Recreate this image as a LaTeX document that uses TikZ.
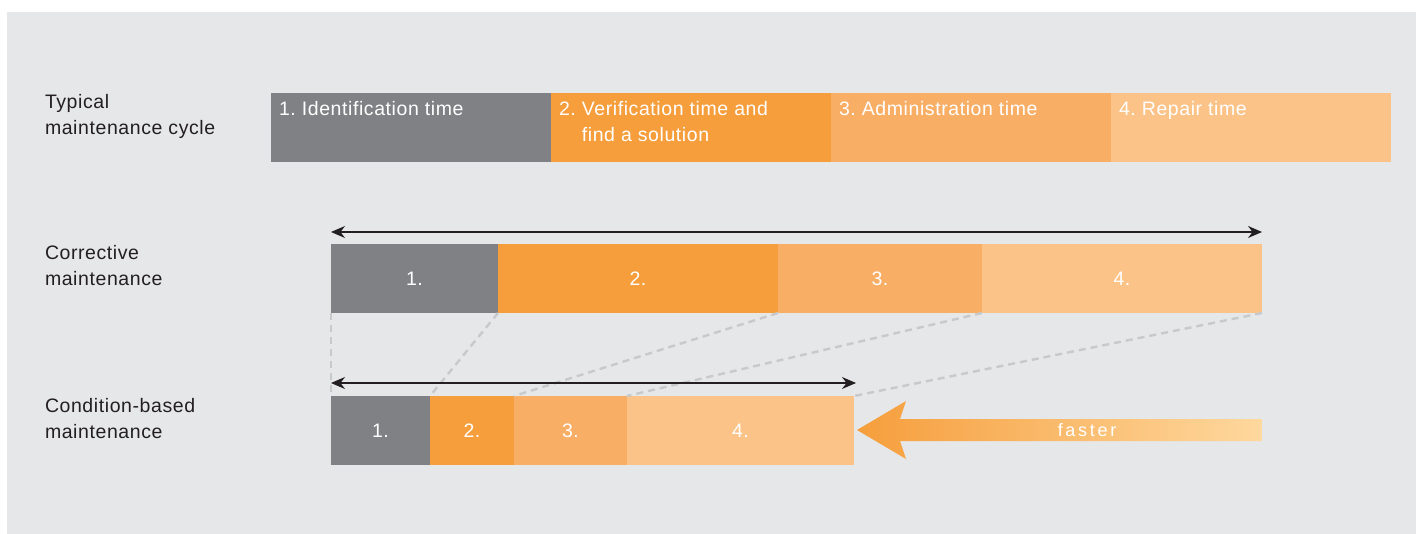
\documentclass[tikz,border=0pt]{standalone}
\usepackage{fontspec}
\setmainfont{Liberation Sans}[LetterSpace=3]
\usetikzlibrary{arrows.meta, positioning}
\frenchspacing

\definecolor{panel}{HTML}{E6E7E8}
\definecolor{ink}{HTML}{231F20}
\definecolor{phasegray}{HTML}{808184}
\definecolor{phasedark}{HTML}{F69E3C}
\definecolor{phasemid}{HTML}{F9AE66}
\definecolor{phaselight}{HTML}{FCC388}
\definecolor{fadeend}{HTML}{FED89E}
\definecolor{guide}{HTML}{C8C9CB}

\begin{document}
\begin{tikzpicture}[
        x = 1pt, y = -1pt, % one unit per pixel, y runs down
        > = {Stealth[length=14pt, width=12pt]}, % arrow head style
        node distance = 0pt, % segments sit edge to edge
        every node/.style = {
            inner sep = 0pt,
            outer sep = 0pt,
            font = \fontsize{19.5}{26}\selectfont
        },
        phase/.style = {
            rectangle,
            minimum height = 69pt,
            text = white
        },
        steptext/.style = {anchor = base west, align = left, xshift = 8pt, yshift = -23pt, text = white},
        rowname/.style = {anchor = base west, align = left, text = ink},
        span/.style = {<->, ink, line width = 1.4pt},
        link/.style = {guide, line width = 2.4pt, dash pattern = on 7pt off 5pt}
    ]

    % background panel
    \useasboundingbox (0,0) rectangle (1416,534);
    \fill[panel] (7,12) rectangle (1416,534);

    % row names (anchored on the last line)
    \node[rowname] (typ) at (45,135) {Typical\\maintenance cycle};
    \node[rowname] (cor) at (45,286) {Corrective\\maintenance};
    \node[rowname] (cbm) at (45,438) {Condition-based\\maintenance};

    % typical maintenance cycle
    \node[phase, fill=phasegray, minimum width=280pt, anchor=north west,
        label={[steptext]north west:1. Identification time}] (t1) at (271,93) {};
    \node[phase, fill=phasedark, minimum width=280pt, right=of t1,
        label={[steptext, yshift=-26pt]north west:2. Verification time and\\\phantom{2. }find a solution}] (t2) {};
    \node[phase, fill=phasemid, minimum width=280pt, right=of t2,
        label={[steptext]north west:3. Administration time}] (t3) {};
    \node[phase, fill=phaselight, minimum width=280pt, right=of t3,
        label={[steptext]north west:4. Repair time}] (t4) {};

    % corrective maintenance
    \node[phase, fill=phasegray, minimum width=167pt, anchor=north west] (c1) at (331,244) {1.};
    \node[phase, fill=phasedark, minimum width=280pt, right=of c1] (c2) {2.};
    \node[phase, fill=phasemid, minimum width=204pt, right=of c2] (c3) {3.};
    \node[phase, fill=phaselight, minimum width=280pt, right=of c3] (c4) {4.};

    % condition-based maintenance
    \node[phase, fill=phasegray, minimum width=99pt, anchor=north west] (d1) at (331,396) {1.};
    \node[phase, fill=phasedark, minimum width=84pt, right=of d1] (d2) {2.};
    \node[phase, fill=phasemid, minimum width=113pt, right=of d2] (d3) {3.};
    \node[phase, fill=phaselight, minimum width=227pt, right=of d3] (d4) {4.};

    % dashed guides between the rows
    \foreach \i in {1,...,4}
        \draw[link] (c\i.south west) -- (d\i.north west);
    \draw[link] (c4.south east) -- (d4.north east);

    % durations
    \draw[span] ([yshift=12pt]c1.north west) -- ([yshift=12pt]c4.north east);
    \draw[span] ([yshift=13pt]d1.north west) -- ([yshift=13pt, xshift=2pt]d4.north east);

    % faster arrow
    \shade[left color=phasedark, right color=fadeend]
        (857,430) -- (906,401) -- (900,419) -- (1262,419)
        -- (1262,441) -- (900,441) -- (906,459) -- cycle;
    \node[text=white, font=\fontsize{18}{20}\selectfont] (fast) at (1087,430)
        {\addfontfeature{LetterSpace=15}faster};
\end{tikzpicture}
\end{document}
